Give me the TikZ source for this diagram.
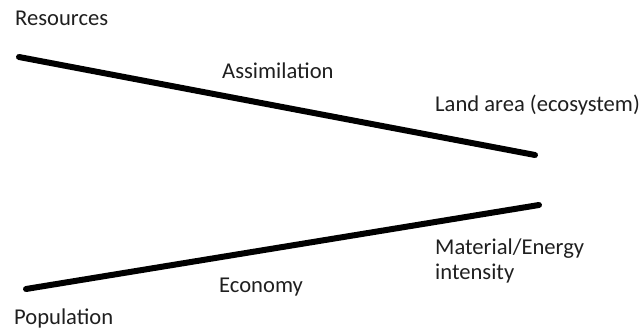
\documentclass[tikz,border=0pt]{standalone}
\usepackage{fontspec}
\setmainfont{Carlito}
\begin{document}
\begin{tikzpicture}[x=1pt,y=-1pt,
  lbl/.style={anchor=base west,inner sep=0pt,font=\fontsize{22.6}{27}\selectfont,text=black!88},
  bar/.style={line width=6pt,line cap=round}]
\useasboundingbox (0,0) rectangle (641,334);
\coordinate (ul) at (19,57);
\coordinate (ur) at (535,155);
\coordinate (ll) at (26,289);
\coordinate (lr) at (539,205);
\draw[bar] (ul) -- (ur);
\draw[bar] (ll) -- (lr);
\node[lbl] (res) at (15,26) {Resources};
\node[lbl] (ass) at (222,79) {Assimilation};
\node[lbl] (land) at (435,112) {Land area (ecosystem)};
\node[lbl] (mat) at (435,255) {Material/Energy};
\node[lbl] (int) at (435,280) {intensity};
\node[lbl] (eco) at (219,293) {Economy};
\node[lbl] (pop) at (14,325) {Population};
\end{tikzpicture}
\end{document}
